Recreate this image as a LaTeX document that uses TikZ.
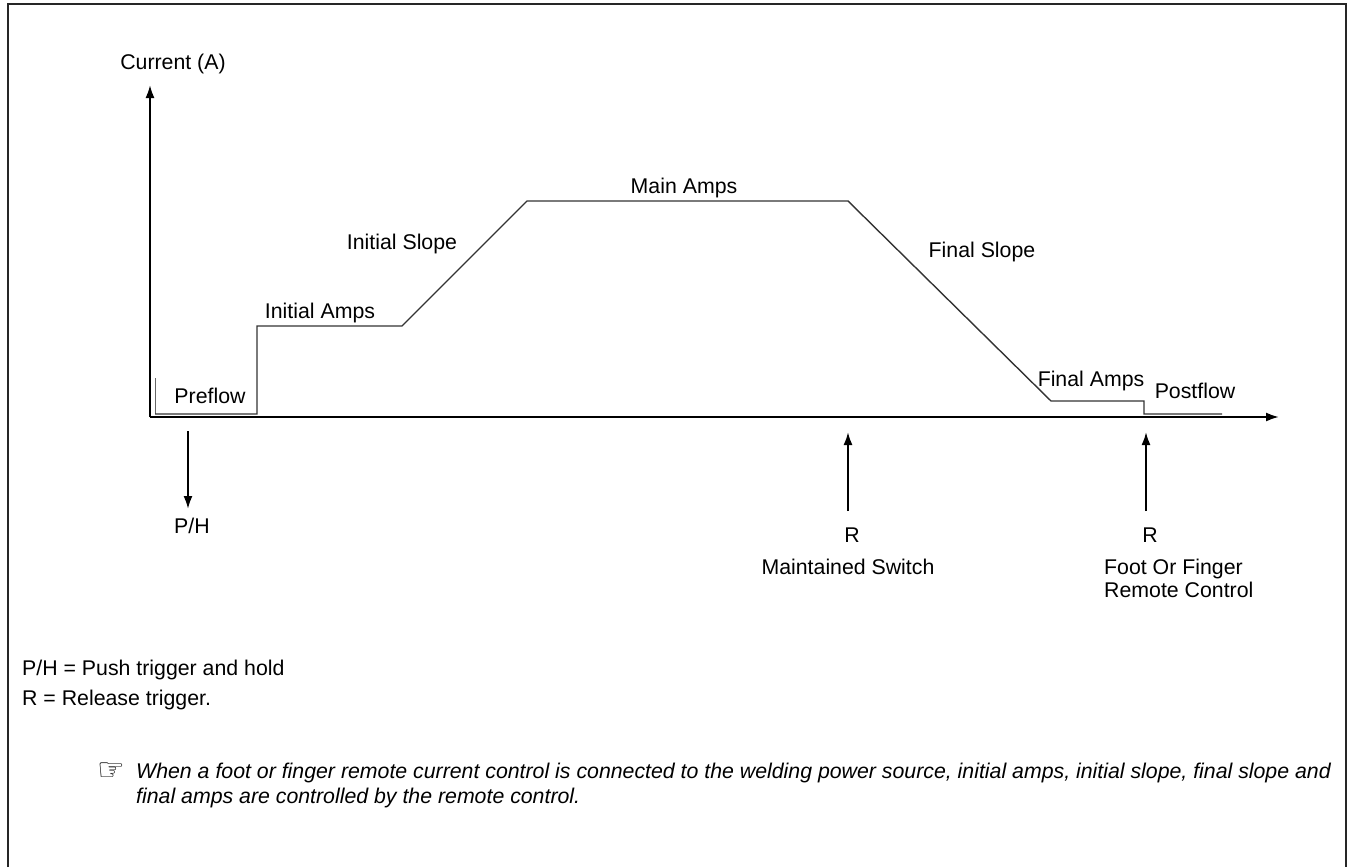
\documentclass[tikz,border=0pt]{standalone}
\usepackage{fontspec}
\setmainfont{Liberation Sans}
\newfontfamily\symfont{DejaVu Sans}
\usetikzlibrary{arrows.meta}
\tikzset{
  lbl/.style={anchor=base, inner sep=0pt, font=\fontsize{21.3}{24}\selectfont},
  lbll/.style={lbl, anchor=base west},
  axisline/.style={line width=2pt, -{Latex[length=13pt,width=9pt]}},
  trig/.style={line width=2pt, -{Latex[length=13pt,width=9pt]}},
  curve/.style={line width=1.4pt, draw=black!80, line join=miter},
  frame/.style={line width=2pt, draw=black!85}
}
\begin{document}
\begin{tikzpicture}[x=1pt,y=-1pt]
\useasboundingbox (0,0) rectangle (1351,867);
% frame
\draw[frame] (8,867) -- (8,4) -- (1346,4) -- (1346,867);

% axes
\coordinate (o) at (150,417);
\coordinate (ytip) at (150,85);
\coordinate (xtip) at (1279,417);
\draw[axisline] (o) -- (ytip);
\draw[axisline] (o) -- (xtip);
\node[lbl] (cur) at (173,70) {Current (A)};

% current profile
\draw[line width=0.8pt, draw=black!60] (155,378) -- (155,414);
\draw[curve] (155,414) -- (257,414) -- (257,326) -- (402,326) -- (527,201)
  -- (848,201) -- (1051,401) -- (1144,401) -- (1144,414) -- (1222,414);

% segment labels
\node[lbl] (pre)  at (210,403) {Preflow};
\node[lbl] (ia)   at (320,318) {Initial Amps};
\node[lbl] (is)   at (402,249) {Initial Slope};
\node[lbl] (ma)   at (684,193) {Main Amps};
\node[lbl] (fs)   at (982,257) {Final Slope};
\node[lbl] (fa)   at (1091,386) {Final Amps};
\node[lbl] (post) at (1195,398) {Postflow};

% trigger arrows
\node[lbl] (ph) at (192,533) {P/H};
\coordinate (ph0) at (188,431);
\coordinate (ph1) at (188,509);
\draw[trig] (ph0) -- (ph1);

\node[lbl] (r1) at (852,542) {R};
\node[lbl] (ms) at (848,574) {Maintained Switch};
\coordinate (r1a) at (848,511);
\coordinate (r1b) at (848,432);
\draw[trig] (r1a) -- (r1b);

\node[lbl] (r2) at (1150,542) {R};
\node[lbll] (ff) at (1104,574) {Foot Or Finger};
\node[lbll] (rc) at (1104,597) {Remote Control};
\coordinate (r2a) at (1146,511);
\coordinate (r2b) at (1146,432);
\draw[trig] (r2a) -- (r2b);

% legend
\node[lbll] (leg1) at (22,675) {P/H = Push trigger and hold};
\node[lbll] (leg2) at (22,705) {R = Release trigger.};

% note
\node[lbll] (hand) at (97,780) {\symfont\fontsize{31}{31}\selectfont ☞};
\node[lbll] (n1) at (136,778) {\itshape When a foot or finger remote current control is connected to the welding power source, initial amps, initial slope, final slope and};
\node[lbll] (n2) at (136,803) {\itshape final amps are controlled by the remote control.};
\end{tikzpicture}
\end{document}
